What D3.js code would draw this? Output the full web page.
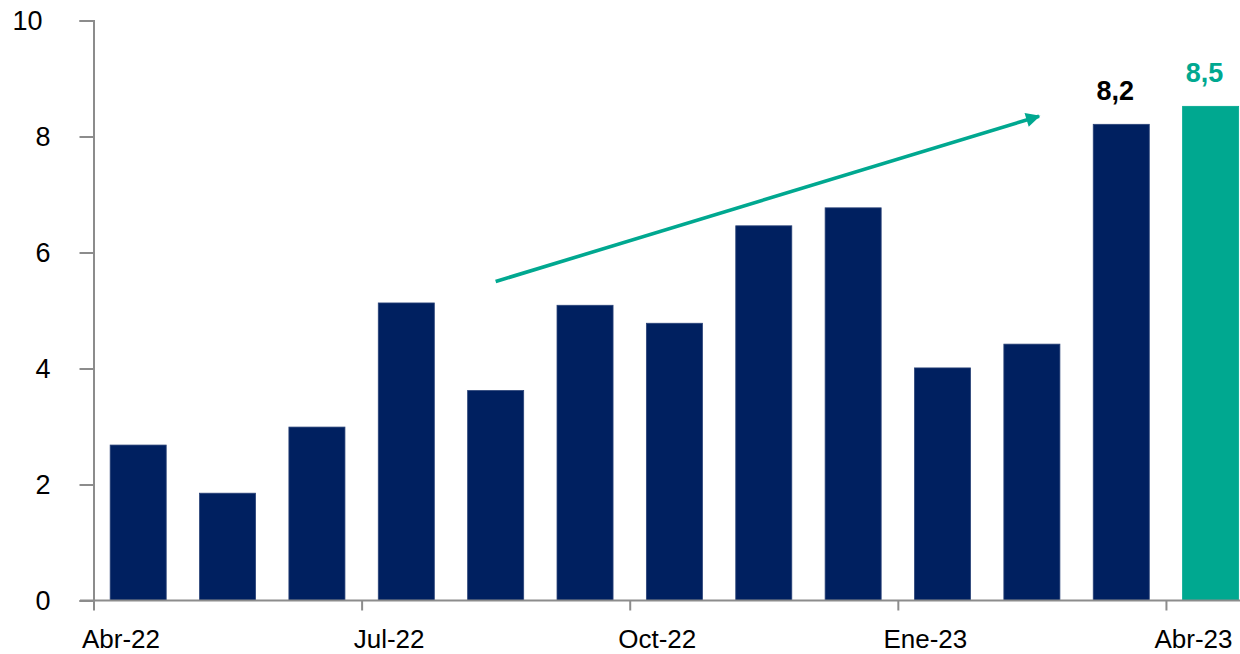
<!DOCTYPE html>
<html>
<head>
<meta charset="utf-8">
<script src="https://cdn.jsdelivr.net/npm/d3@7"></script>
<style>
  html, body { margin: 0; padding: 0; background: #ffffff; }
  svg { display: block; }
  text { font-family: "Liberation Sans", Arial, sans-serif; }
</style>
</head>
<body>
<div id="chart"></div>
<script>
// ---- Data ----
const categories = ["Abr-22","May-22","Jun-22","Jul-22","Ago-22","Sep-22","Oct-22","Nov-22","Dic-22","Ene-23","Feb-23","Mar-23","Abr-23"];
const values = [2.68, 1.85, 2.99, 5.13, 3.62, 5.09, 4.78, 6.46, 6.77, 4.01, 4.42, 8.21, 8.52];
const xTickLabels = ["Abr-22","Jul-22","Oct-22","Ene-23","Abr-23"];
const yTickValues = [0, 2, 4, 6, 8, 10];
const labeledBars = ["Mar-23", "Abr-23"];
const highlightCategory = "Abr-23";
// trend arrow (in category-index / value units)
const trendArrow = [{ i: 4.5, v: 5.5 }, { i: 10.58, v: 8.35 }];

// ---- Layout ----
const W = 1240, H = 654;
const x0 = 93.5, step = 89.37;
const navy = "#002060", teal = "#00A890", axisColor = "#8c8c8c";

const svg = d3.select("#chart").append("svg").attr("width", W).attr("height", H);

const x = d3.scaleBand().domain(categories)
  .range([x0, x0 + step * categories.length])
  .paddingInner(0.373).paddingOuter(0.1865);
const xi = d3.scaleLinear().domain([0, categories.length]).range([x0, x0 + step * categories.length]);
const y = d3.scaleLinear().domain([0, 10]).range([600.5, 20.5]);

svg.append("defs").append("marker")
  .attr("id", "arrowhead")
  .attr("viewBox", "0 0 10 10")
  .attr("refX", 9).attr("refY", 5)
  .attr("markerWidth", 4.2).attr("markerHeight", 4)
  .attr("markerUnits", "strokeWidth")
  .attr("orient", "auto")
  .append("path").attr("d", "M0,0 L10,5 L0,10 z").attr("fill", teal);

// Bars
svg.append("g").selectAll("rect").data(categories).join("rect")
  .attr("x", d => x(d))
  .attr("width", x.bandwidth())
  .attr("y", (d, i) => y(values[i]))
  .attr("height", (d, i) => y(0) - y(values[i]))
  .attr("fill", d => d === highlightCategory ? teal : navy)
  .attr("stroke", d => d === highlightCategory ? teal : "#2a4378")
  .attr("stroke-width", 0.8);

// Y axis
const yAxis = svg.append("g")
  .attr("transform", `translate(${x0},0)`)
  .call(d3.axisLeft(y).tickValues(yTickValues).tickSize(14).tickPadding(29).tickFormat(d3.format("d")));
yAxis.select(".domain").attr("stroke", axisColor).attr("stroke-width", 2);
yAxis.selectAll(".tick line").attr("stroke", axisColor).attr("stroke-width", 2);
yAxis.selectAll(".tick text")
  .attr("font-size", 27).attr("fill", "#000")
  .attr("font-family", "Liberation Sans, Arial, sans-serif")
  .attr("dx", d => d === 10 ? -8 : 0);

// X axis
const xAxis = svg.append("g")
  .attr("transform", `translate(0,${y(0)})`)
  .call(d3.axisBottom(xi)
    .tickValues(xTickLabels.map(l => categories.indexOf(l)))
    .tickSize(10)
    .tickFormat(i => categories[i]));
xAxis.select(".domain").remove();
xAxis.append("line")
  .attr("x1", 80).attr("x2", W)
  .attr("y1", 0).attr("y2", 0)
  .attr("stroke", axisColor).attr("stroke-width", 2);
xAxis.selectAll(".tick line").attr("stroke", axisColor).attr("stroke-width", 2);
xAxis.selectAll(".tick text")
  .attr("font-size", 26).attr("fill", "#000")
  .attr("font-family", "Liberation Sans, Arial, sans-serif")
  .attr("y", 47).attr("dy", 0).attr("dx", 27);

// Value labels
const fmt = v => d3.format(".1f")(v).replace(".", ",");
svg.append("g").selectAll("text").data(labeledBars).join("text")
  .attr("x", d => x(d) + x.bandwidth() / 2 - 6)
  .attr("y", d => y(values[categories.indexOf(d)]) - 24)
  .attr("text-anchor", "middle")
  .attr("font-size", 27).attr("font-weight", "bold")
  .attr("fill", d => d === highlightCategory ? teal : "#000")
  .text(d => fmt(values[categories.indexOf(d)]));

// Trend arrow
svg.append("line")
  .attr("x1", xi(trendArrow[0].i)).attr("y1", y(trendArrow[0].v))
  .attr("x2", xi(trendArrow[1].i)).attr("y2", y(trendArrow[1].v))
  .attr("stroke", teal).attr("stroke-width", 3.6)
  .attr("marker-end", "url(#arrowhead)");
</script>
</body>
</html>
